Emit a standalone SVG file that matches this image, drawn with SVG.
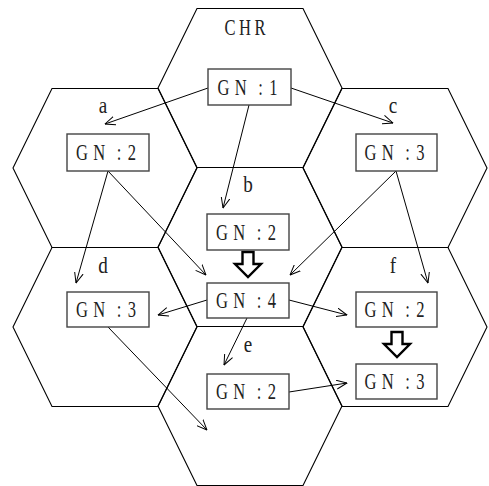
<svg xmlns="http://www.w3.org/2000/svg" xmlns:xlink="http://www.w3.org/1999/xlink" width="489" height="486" viewBox="0 0 489 486">
<style>
.hex{fill:none;stroke:#000;stroke-width:1.1}
.box{fill:#fff;stroke:#444;stroke-width:1.4}
.t{font-family:"Liberation Serif","Times New Roman",serif;font-size:23px;fill:#222;text-anchor:middle}
.lbl{font-family:"Liberation Serif","Times New Roman",serif;font-size:22.5px;fill:#222;text-anchor:middle}
.con{fill:none;stroke:#000;stroke-width:1;marker-end:url(#v)}
.blk{fill:#fff;stroke:#000;stroke-width:2.4;stroke-linejoin:miter}
</style>
<defs>
<polygon id="hexshape" points="-92,0 -53,-79.5 53,-79.5 92,0 53,79.5 -53,79.5"/>
<marker id="v" viewBox="0 0 11 10" markerUnits="userSpaceOnUse" markerWidth="11" markerHeight="10" refX="10.5" refY="5" orient="auto">
<path d="M0,0.6 L10.5,5 L0,9.4" fill="none" stroke="#000" stroke-width="1"/>
</marker>
</defs>

<g id="hexes">
<g id="hex-CHR"><use xlink:href="#hexshape" href="#hexshape" class="hex" x="250" y="88"/>
<text class="t" transform="translate(245,35) scale(0.72,1)" x="-20.8 0 20.8">CHR</text></g>
<g id="hex-a"><use xlink:href="#hexshape" href="#hexshape" class="hex" x="105" y="168"/>
<text class="lbl" transform="translate(103,113) scale(0.85,1)">a</text></g>
<g id="hex-c"><use xlink:href="#hexshape" href="#hexshape" class="hex" x="395" y="168"/>
<text class="lbl" transform="translate(393,112.5) scale(0.85,1)">c</text></g>
<g id="hex-b"><use xlink:href="#hexshape" href="#hexshape" class="hex" x="250" y="247"/>
<text class="lbl" transform="translate(248,192) scale(0.85,1)">b</text></g>
<g id="hex-d"><use xlink:href="#hexshape" href="#hexshape" class="hex" x="105" y="327"/>
<text class="lbl" transform="translate(103,272.5) scale(0.85,1)">d</text></g>
<g id="hex-f"><use xlink:href="#hexshape" href="#hexshape" class="hex" x="395" y="327"/>
<text class="lbl" transform="translate(393,273) scale(0.85,1)">f</text></g>
<g id="hex-e"><use xlink:href="#hexshape" href="#hexshape" class="hex" x="250" y="406"/>
<text class="lbl" transform="translate(248,351.5) scale(0.85,1)">e</text></g>
</g>

<g id="connectors">
<line class="con" x1="208" y1="88" x2="105" y2="124"/>
<line class="con" x1="291" y1="88" x2="393" y2="123"/>
<line class="con" x1="249" y1="105" x2="223" y2="208"/>
<line class="con" x1="108" y1="171" x2="76" y2="283"/>
<line class="con" x1="108" y1="171" x2="206" y2="275"/>
<line class="con" x1="396" y1="171" x2="290" y2="275"/>
<line class="con" x1="396" y1="171" x2="428" y2="283"/>
<line class="con" x1="207" y1="300" x2="158" y2="315"/>
<line class="con" x1="289" y1="300" x2="347" y2="315"/>
<line class="con" x1="247" y1="318" x2="224" y2="365"/>
<line class="con" x1="108" y1="327" x2="207" y2="430"/>
<line class="con" x1="289" y1="392" x2="347" y2="383"/>
<path class="blk" d="M242.5,252 H253.5 V264 H261 L248,277 L235,264 H242.5 Z"/>
<path class="blk" d="M391.5,332 H402.5 V344 H410 L397,357 L384,344 H391.5 Z"/>
</g>

<g id="node-CHR-GN1"><rect class="box" x="208" y="69" width="83" height="36"/>
<text class="t" transform="translate(249.5,94.5) scale(0.72,1)" x="-36.1 -12.1 1.4 15.3 33.3">GN :1</text></g>
<g id="node-a-GN2"><rect class="box" x="67" y="134" width="82" height="37"/>
<text class="t" transform="translate(108,160) scale(0.72,1)" x="-36.1 -12.1 1.4 15.3 33.3">GN :2</text></g>
<g id="node-c-GN3"><rect class="box" x="356" y="134" width="81" height="37"/>
<text class="t" transform="translate(396.5,160) scale(0.72,1)" x="-36.1 -12.1 1.4 15.3 33.3">GN :3</text></g>
<g id="node-b-GN2"><rect class="box" x="207" y="214" width="82" height="36"/>
<text class="t" transform="translate(248,239.5) scale(0.72,1)" x="-36.1 -12.1 1.4 15.3 33.3">GN :2</text></g>
<g id="node-b-GN4"><rect class="box" x="207" y="283" width="82" height="35"/>
<text class="t" transform="translate(248,308) scale(0.72,1)" x="-36.1 -12.1 1.4 15.3 33.3">GN :4</text></g>
<g id="node-d-GN3"><rect class="box" x="67" y="292" width="82" height="35"/>
<text class="t" transform="translate(108,317) scale(0.72,1)" x="-36.1 -12.1 1.4 15.3 33.3">GN :3</text></g>
<g id="node-e-GN2"><rect class="box" x="207" y="374" width="82" height="35"/>
<text class="t" transform="translate(248,399) scale(0.72,1)" x="-36.1 -12.1 1.4 15.3 33.3">GN :2</text></g>
<g id="node-f-GN2"><rect class="box" x="356" y="292" width="81" height="35"/>
<text class="t" transform="translate(396.5,317) scale(0.72,1)" x="-36.1 -12.1 1.4 15.3 33.3">GN :2</text></g>
<g id="node-f-GN3"><rect class="box" x="356" y="364" width="81" height="35"/>
<text class="t" transform="translate(396.5,389) scale(0.72,1)" x="-36.1 -12.1 1.4 15.3 33.3">GN :3</text></g>
</svg>
